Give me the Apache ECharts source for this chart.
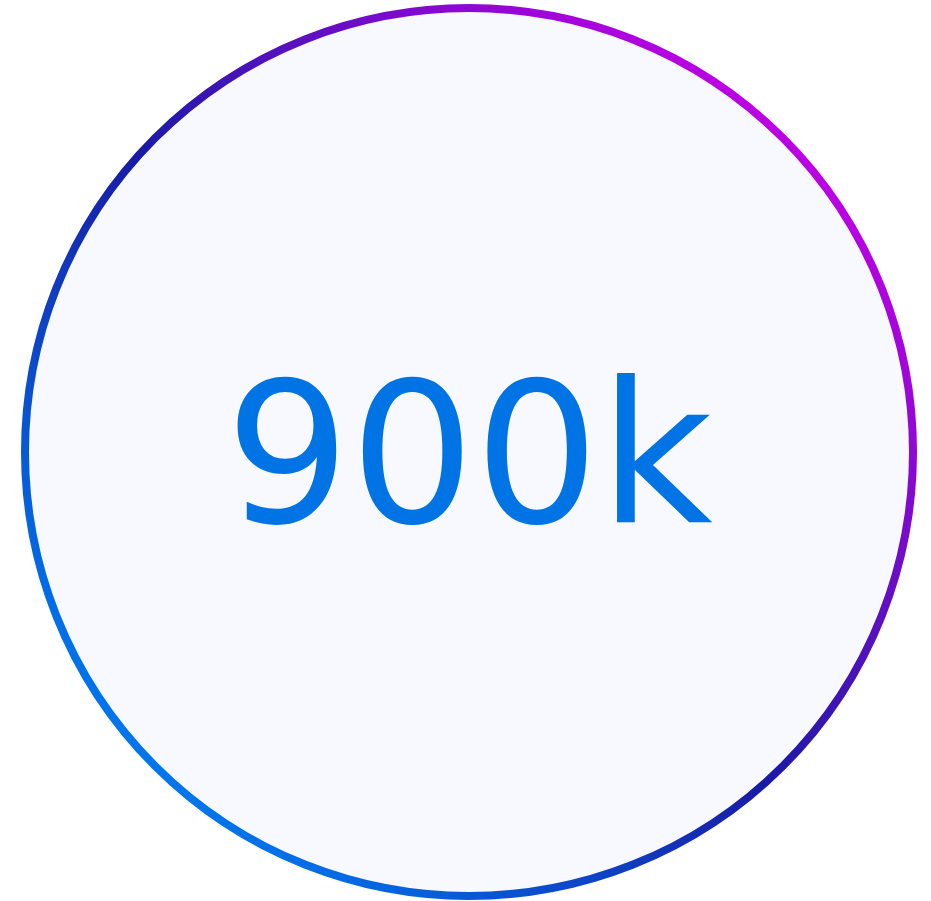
<!DOCTYPE html>
<html>
<head>
<meta charset="utf-8">
<script src="https://cdn.jsdelivr.net/npm/echarts@6/dist/echarts.min.js"></script>
<style>html,body{margin:0;padding:0;background:#fff;}#c{width:931px;height:901px;}</style>
</head>
<body>
<div id="c"></div>
<script>
const names = ['900k'];
const values = [900000];

const chart = echarts.init(document.getElementById('c'), null, {renderer: 'canvas'});
chart.setOption({
  animation: false,
  series: [{
    type: 'pie',
    center: [469, 452],
    radius: [0, 444],
    silent: true,
    label: {
      show: true,
      position: 'center',
      formatter: '{b}',
      fontFamily: 'DejaVu Sans',
      fontSize: 196,
      offset: [0, 19],
      color: '#0074e4'
    },
    labelLine: {show: false},
    itemStyle: {
      color: '#f7f9ff',
      borderWidth: 8,
      borderColor: new echarts.graphic.LinearGradient(0, 1, 1, 0, [
        {offset: 0, color: '#0082f4'},
        {offset: 0.14, color: '#0078ee'},
        {offset: 0.48, color: '#181aa6'},
        {offset: 0.86, color: '#c000e6'},
        {offset: 1, color: '#cc00ee'}
      ])
    },
    data: names.map((n, i) => ({name: n, value: values[i]}))
  }]
});
</script>
</body>
</html>
